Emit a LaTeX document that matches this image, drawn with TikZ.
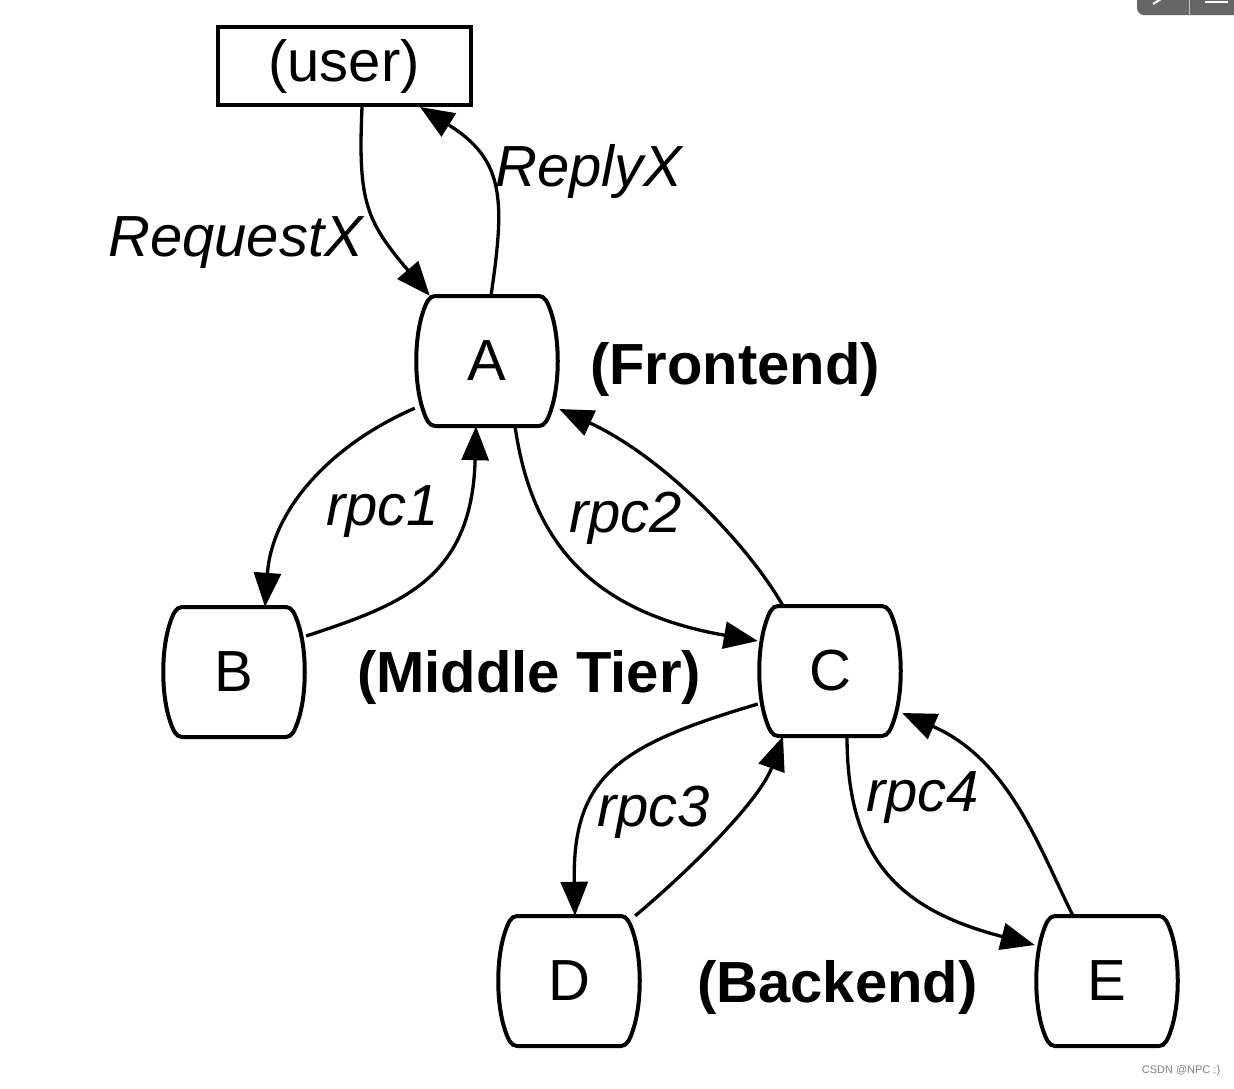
\documentclass[tikz,border=0pt]{standalone}
\usepackage{fontspec}
\setmainfont{Liberation Sans}
\usetikzlibrary{arrows.meta}
\definecolor{uitab}{HTML}{666666}
\tikzset{
  txt/.style={inner sep=0pt, font=\fontsize{58}{60}\selectfont},
  edgelbl/.style={inner sep=0pt, anchor=base west, font=\fontsize{58}{60}\selectfont\itshape},
  tierlbl/.style={inner sep=0pt, anchor=base west, font=\fontsize{58}{60}\selectfont\bfseries},
  tierbox/.style={minimum width=144pt, minimum height=130pt, inner sep=0pt, font=\fontsize{58}{60}\selectfont},
  boxline/.style={line width=4pt, line join=round},
  conn/.style={line width=3.3pt, -{Triangle[length=34pt,width=27pt]}},
}
\newcommand\barrelpath[1]{%
  \draw[boxline, shift={(#1.center)}] (-52,-65) -- (52,-65)
    .. controls (58,-65) and (61,-58) .. (64,-49)
    .. controls (73,-22) and (73,22) .. (64,49)
    .. controls (61,58) and (58,65) .. (52,65)
    -- (-52,65)
    .. controls (-58,65) and (-61,58) .. (-64,49)
    .. controls (-73,22) and (-73,-22) .. (-64,-49)
    .. controls (-61,-58) and (-58,-65) .. (-52,-65) -- cycle;}
\begin{document}
\begin{tikzpicture}[x=1pt, y=-1pt]
\useasboundingbox (0,0) rectangle (1234,1088);
\fill[white] (0,0) rectangle (1234,1088);

% UI tab in the corner
\fill[uitab, rounded corners=7pt] (1137,-12) -- (1137,15) -- (1250,15) -- (1250,-12) -- cycle;
\draw[gray!45, line width=1pt] (1189,0) -- (1189,15);
\draw[white, line width=2pt] (1153,4) -- (1161,-1);
\draw[white, line width=1.5pt] (1205,2) -- (1228,2);

% nodes
\node[draw, line width=4pt, minimum width=253pt, minimum height=78pt, txt] (user) at (344,66) {(user)};
\node[tierbox] (A) at (487,361) {A};
\node[tierbox] (B) at (234,672) {B};
\node[tierbox] (C) at (830,671) {C};
\node[tierbox] (D) at (569,981) {D};
\node[tierbox] (E) at (1107,981) {E};
\barrelpath{A}
\barrelpath{B}
\barrelpath{C}
\barrelpath{D}
\barrelpath{E}

% tier labels
\node[tierlbl] (lfront) at (590,384) {(Frontend)};
\node[tierlbl] (lmid) at (357,692) {(Middle Tier)};
\node[tierlbl] (lback) at (697,1002) {(Backend)};

% edge labels
\node[edgelbl] (lreq) at (108,256) {RequestX};
\node[edgelbl] (lrep) at (495,186) {ReplyX};
\node[edgelbl] (lr1) at (326,525) {rpc1};
\node[edgelbl] (lr2) at (569,532) {rpc2};
\node[edgelbl] (lr3) at (597,826) {rpc3};
\node[edgelbl] (lr4) at (866,811) {rpc4};

% connectors
\draw[conn] ([xshift=18pt]user.south) .. controls (358,200) and (365,220) .. ([xshift=15pt]A.north west);
\draw[conn] ([xshift=4pt]A.north) .. controls (505,200) and (505,160) .. ([xshift=76pt]user.south);
\draw[conn] ([yshift=18pt]A.south west) .. controls (330,445) and (272,510) .. ([xshift=31pt]B.north);
\draw[conn] ([yshift=36pt]B.east) .. controls (400,605) and (472,580) .. ([xshift=-11pt]A.south);
\draw[conn] ([xshift=28pt]A.south) .. controls (530,530) and (580,610) .. ([yshift=30pt]C.west);
\draw[conn] ([xshift=-47pt]C.north) .. controls (745,540) and (660,455) .. ([yshift=-48pt]A.east);
\draw[conn] ([yshift=-33pt]C.west) .. controls (620,745) and (572,775) .. ([xshift=6pt]D.north);
\draw[conn] ([xshift=-6pt]D.north east) .. controls (690,870) and (760,800) .. ([xshift=-47pt]C.south);
\draw[conn] ([xshift=17pt]C.south) .. controls (847,860) and (900,910) .. ([yshift=36pt]E.west);
\draw[conn] ([xshift=-34pt]E.north) .. controls (1040,850) and (1010,760) .. ([yshift=-42pt]C.east);

% watermark
\node[inner sep=0pt, font=\fontsize{11}{12}\selectfont, text=black!50] (wm) at (1181,1071) {CSDN @NPC :)};
\end{tikzpicture}
\end{document}
